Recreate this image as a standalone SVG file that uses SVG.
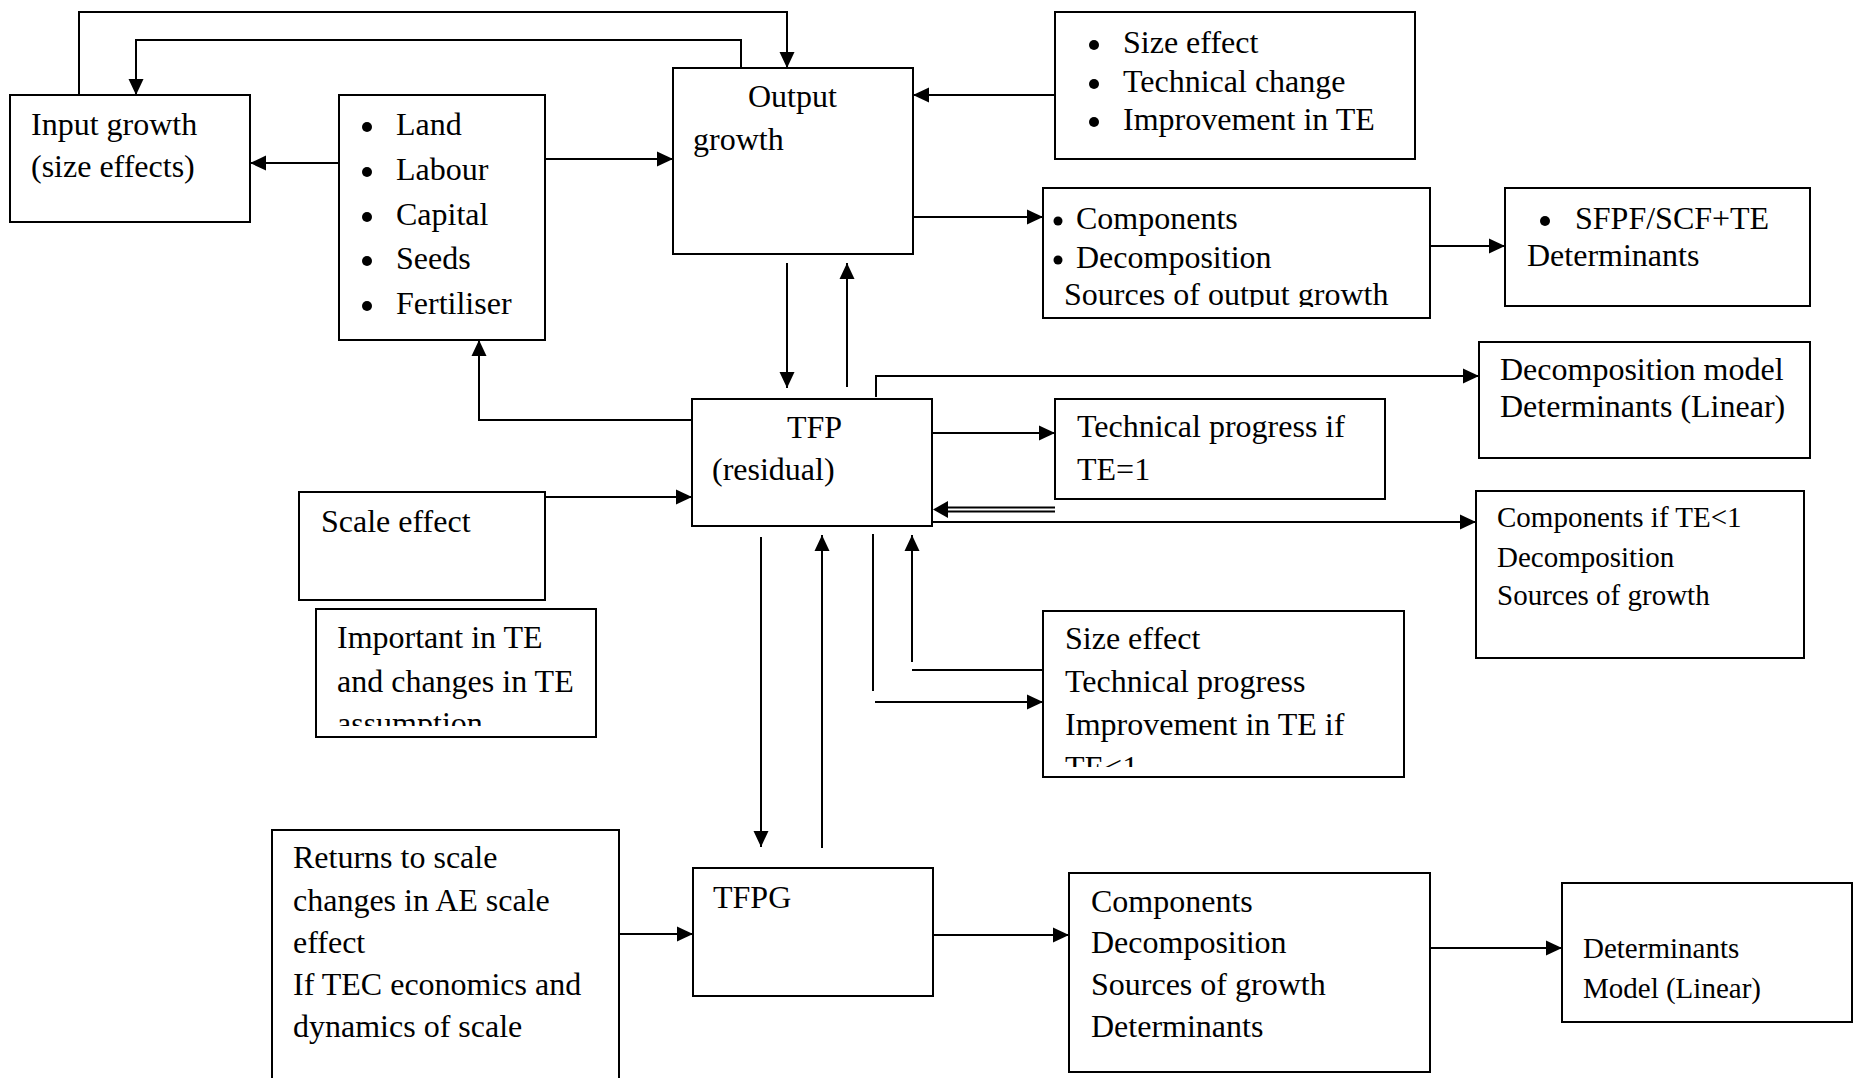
<svg xmlns="http://www.w3.org/2000/svg" width="1863" height="1078" viewBox="0 0 1863 1078">
<defs>
<style>
.box{fill:#fff;stroke:#000;stroke-width:2}
.t{font-family:"Liberation Serif","Times New Roman",serif;font-size:32px;fill:#000}
.s{font-size:29px}
.b{fill:#000}
.c{fill:none;stroke:#000;stroke-width:2}
</style>
<marker id="ah" markerUnits="userSpaceOnUse" markerWidth="17" markerHeight="16" refX="16" refY="8" orient="auto">
<path d="M0,0.5 L16,8 L0,15.5 z" fill="#000"/>
</marker>
<clipPath id="clipComp"><rect x="1043" y="188" width="387" height="119"/></clipPath>
<clipPath id="clipImp"><rect x="316" y="609" width="280" height="117"/></clipPath>
<clipPath id="clipSize"><rect x="1043" y="611" width="361" height="156"/></clipPath>
</defs>
<rect width="1863" height="1078" fill="#fff"/>

<g id="connectors">
<path class="c" d="M79,95 V12 H787 V68" marker-end="url(#ah)"/>
<path class="c" d="M741,68 V40 H136 V95" marker-end="url(#ah)"/>
<path class="c" d="M339,163 H250" marker-end="url(#ah)"/>
<path class="c" d="M545,159 H673" marker-end="url(#ah)"/>
<path class="c" d="M1055,95 H913" marker-end="url(#ah)"/>
<path class="c" d="M913,217 H1043" marker-end="url(#ah)"/>
<path class="c" d="M1430,246 H1505" marker-end="url(#ah)"/>
<path class="c" d="M787,263 V388" marker-end="url(#ah)"/>
<path class="c" d="M847,387 V263" marker-end="url(#ah)"/>
<path class="c" d="M692,420 H479 V340" marker-end="url(#ah)"/>
<path class="c" d="M876,397 V376 H1479" marker-end="url(#ah)"/>
<path class="c" d="M545,497 H692" marker-end="url(#ah)"/>
<path class="c" d="M932,433 H1055" marker-end="url(#ah)"/>
<path class="c" d="M1055,507.5 H945 M1055,511.5 H945" stroke-width="1.6"/>
<polygon points="933,509.5 948,501 948,518" fill="#000"/>
<path class="c" d="M927,522 H1476" marker-end="url(#ah)"/>
<path class="c" d="M1043,670 H912"/>
<path class="c" d="M912,662 V535" marker-end="url(#ah)"/>
<path class="c" d="M873,534 V691"/>
<path class="c" d="M875,702 H1043" marker-end="url(#ah)"/>
<path class="c" d="M761,537 V847" marker-end="url(#ah)"/>
<path class="c" d="M822,848 V535" marker-end="url(#ah)"/>
<path class="c" d="M619,934 H693" marker-end="url(#ah)"/>
<path class="c" d="M933,935 H1069" marker-end="url(#ah)"/>
<path class="c" d="M1430,948 H1562" marker-end="url(#ah)"/>
</g>

<g id="input-growth">
<rect class="box" x="10" y="95" width="240" height="127"/>
<text class="t" x="31" y="135">Input growth</text>
<text class="t" x="31" y="177">(size effects)</text>
</g>

<g id="inputs">
<rect class="box" x="339" y="95" width="206" height="245"/>
<circle class="b" cx="367" cy="127" r="5"/>
<text class="t" x="396" y="135">Land</text>
<circle class="b" cx="367" cy="172" r="5"/>
<text class="t" x="396" y="180">Labour</text>
<circle class="b" cx="367" cy="217" r="5"/>
<text class="t" x="396" y="225">Capital</text>
<circle class="b" cx="367" cy="261" r="5"/>
<text class="t" x="396" y="269">Seeds</text>
<circle class="b" cx="367" cy="306" r="5"/>
<text class="t" x="396" y="314">Fertiliser</text>
</g>

<g id="output-growth">
<rect class="box" x="673" y="68" width="240" height="186"/>
<text class="t" x="748" y="107">Output</text>
<text class="t" x="693" y="150">growth</text>
</g>

<g id="size-effect-top">
<rect class="box" x="1055" y="12" width="360" height="147"/>
<circle class="b" cx="1094" cy="45" r="5"/>
<text class="t" x="1123" y="53">Size effect</text>
<circle class="b" cx="1094" cy="84" r="5"/>
<text class="t" x="1123" y="92">Technical change</text>
<circle class="b" cx="1094" cy="122" r="5"/>
<text class="t" x="1123" y="130">Improvement in TE</text>
</g>

<g id="components-top">
<rect class="box" x="1043" y="188" width="387" height="130"/>
<circle class="b" cx="1058" cy="221" r="4.5"/>
<text class="t" x="1076" y="229">Components</text>
<circle class="b" cx="1058" cy="260" r="4.5"/>
<text class="t" x="1076" y="268">Decomposition</text>
<text class="t" x="1064" y="305" clip-path="url(#clipComp)">Sources of output growth</text>
</g>

<g id="sfpf">
<rect class="box" x="1505" y="188" width="305" height="118"/>
<circle class="b" cx="1545" cy="221" r="5"/>
<text class="t" x="1575" y="229">SFPF/SCF+TE</text>
<text class="t" x="1527" y="266">Determinants</text>
</g>

<g id="decomposition-model">
<rect class="box" x="1479" y="342" width="331" height="116"/>
<text class="t" x="1500" y="380">Decomposition model</text>
<text class="t" x="1500" y="417">Determinants (Linear)</text>
</g>

<g id="tfp">
<rect class="box" x="692" y="399" width="240" height="127"/>
<text class="t" x="787" y="438">TFP</text>
<text class="t" x="712" y="480">(residual)</text>
</g>

<g id="technical-progress">
<rect class="box" x="1055" y="399" width="330" height="100"/>
<text class="t" x="1077" y="437">Technical progress if</text>
<text class="t" x="1077" y="480">TE=1</text>
</g>

<g id="scale-effect">
<rect class="box" x="299" y="492" width="246" height="108"/>
<text class="t" x="321" y="532">Scale effect</text>
</g>

<g id="important-te">
<rect class="box" x="316" y="609" width="280" height="128"/>
<text class="t" x="337" y="648">Important in TE</text>
<text class="t" x="337" y="692">and changes in TE</text>
<text class="t" x="337" y="734" clip-path="url(#clipImp)">assumption</text>
</g>

<g id="components-if">
<rect class="box" x="1476" y="491" width="328" height="167"/>
<text class="t s" x="1497" y="527">Components if TE&lt;1</text>
<text class="t s" x="1497" y="567">Decomposition</text>
<text class="t s" x="1497" y="605">Sources of growth</text>
</g>

<g id="size-effect-bottom">
<rect class="box" x="1043" y="611" width="361" height="166"/>
<text class="t" x="1065" y="649">Size effect</text>
<text class="t" x="1065" y="692">Technical progress</text>
<text class="t" x="1065" y="735">Improvement in TE if</text>
<text class="t" x="1065" y="778" clip-path="url(#clipSize)">TE&lt;1</text>
</g>

<g id="returns-to-scale">
<rect class="box" x="272" y="830" width="347" height="260"/>
<text class="t" x="293" y="868">Returns to scale</text>
<text class="t" x="293" y="911">changes in AE scale</text>
<text class="t" x="293" y="953">effect</text>
<text class="t" x="293" y="995">If TEC economics and</text>
<text class="t" x="293" y="1037">dynamics of scale</text>
</g>

<g id="tfpg">
<rect class="box" x="693" y="868" width="240" height="128"/>
<text class="t" x="713" y="908">TFPG</text>
</g>

<g id="components-bottom">
<rect class="box" x="1069" y="873" width="361" height="199"/>
<text class="t" x="1091" y="912">Components</text>
<text class="t" x="1091" y="953">Decomposition</text>
<text class="t" x="1091" y="995">Sources of growth</text>
<text class="t" x="1091" y="1037">Determinants</text>
</g>

<g id="determinants-model">
<rect class="box" x="1562" y="883" width="290" height="139"/>
<text class="t s" x="1583" y="958">Determinants</text>
<text class="t s" x="1583" y="998">Model (Linear)</text>
</g>
</svg>
